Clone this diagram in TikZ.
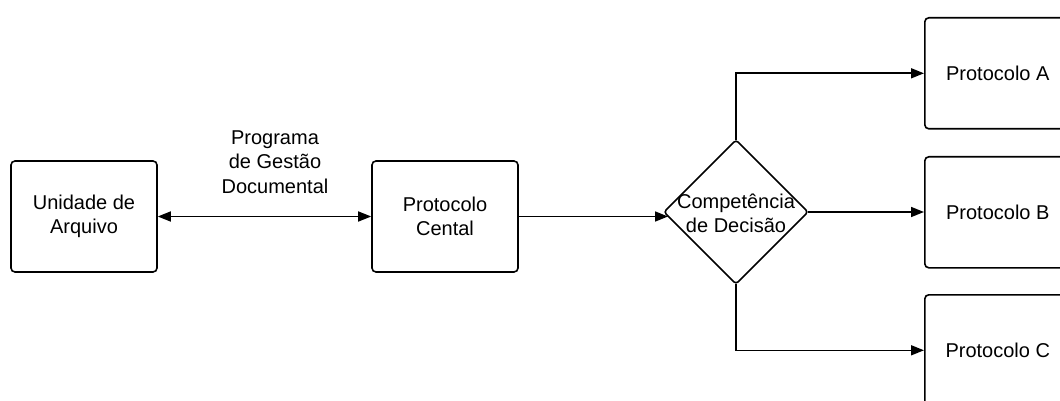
\documentclass[tikz,border=0pt]{standalone}
\usepackage{fontspec}
\setmainfont{Liberation Sans}
\usetikzlibrary{arrows.meta}
\begin{document}
\begin{tikzpicture}[x=1pt,y=-1pt,
  box/.style={draw,line width=1.6pt,rounded corners=4pt,minimum width=146pt,minimum height=111pt,inner sep=0pt,align=center,font=\fontsize{20}{24}\selectfont},
  diatext/.style={inner sep=0pt,align=center,font=\fontsize{20}{24}\selectfont},
  dialine/.style={line width=1.6pt,rounded corners=3pt},
  conn/.style={line width=1.6pt,-{Triangle[length=13pt,width=10pt]}},
  lbl/.style={align=center,font=\fontsize{20}{24.5}\selectfont}]
\useasboundingbox (0,0) rectangle (1060,401);
\node[box] (ua) at (84,216.5) {Unidade de\\Arquivo};
\node[box] (pc) at (445,216.5) {Protocolo\\Cental};
\coordinate (cdn) at (736,140);
\coordinate (cde) at (808,212);
\coordinate (cds) at (736,284);
\coordinate (cdw) at (664,212);
\draw[dialine] (cdn) -- (cde) -- (cds) -- (cdw) -- cycle;
\node[diatext] (cd) at (736,213) {Competência\\de Decisão};
\node[box,anchor=north west] (pa) at (924,17) {Protocolo A};
\node[box,anchor=north west] (pb) at (924,156) {Protocolo B};
\node[box,anchor=north west] (pcc) at (924,294) {Protocolo C};
\draw[conn,{Triangle[length=13pt,width=10pt]}-{Triangle[length=13pt,width=10pt]}] (ua.east) -- (pc.west);
\node[lbl] (pg) at (275,162) {Programa\\de Gestão\\Documental};
\draw[conn] (pc.east) -- ([xshift=4pt]cdw |- pc.east);
\draw[conn] (cdn) |- (pa.west);
\draw[conn] (cde) -- (cde -| pb.west);
\draw[conn] (cds) |- (pcc.west);
\end{tikzpicture}
\end{document}
